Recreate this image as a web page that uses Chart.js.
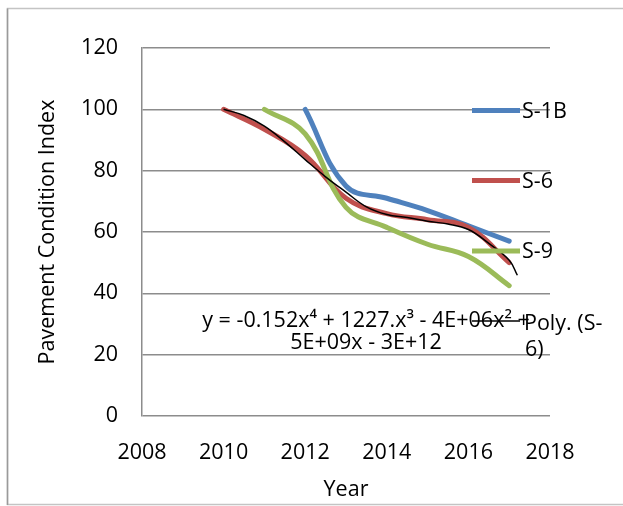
<!DOCTYPE html>
<html>
<head>
<meta charset="utf-8">
<script src="https://cdn.jsdelivr.net/npm/chart.js@4.4.0/dist/chart.umd.min.js"></script>
<style>
html,body{margin:0;padding:0;background:#fff;}
#wrap{width:623px;height:506px;position:relative;}
</style>
</head>
<body>
<div id="wrap"><canvas id="c" width="623" height="506"></canvas></div>
<script>
// ---- data ----
const yearsS1B = [2012, 2013, 2014, 2015, 2016, 2017];
const valuesS1B = [100, 75, 71, 67, 62, 57];

const yearsS6 = [2010, 2011, 2012, 2013, 2014, 2015, 2016, 2017];
const valuesS6 = [100, 93.5, 85, 71, 66, 64, 61.5, 50];

const yearsS9 = [2011, 2012, 2013, 2014, 2015, 2016, 2017];
const valuesS9 = [100, 92, 68, 61.5, 56, 52, 42.5];

// Poly. (S-6) trendline
const trendYears = [2010, 2010.5, 2011, 2011.5, 2012, 2012.5, 2013, 2013.5, 2014, 2014.5, 2015, 2015.5, 2016, 2016.5, 2017, 2017.2];
const trendValues = [100, 98, 94.5, 89.4, 83.6, 78, 73, 68.2, 65.7, 64.7, 63.5, 62.6, 60.8, 56.3, 50.8, 45.9];

const xTicks = [2008, 2010, 2012, 2014, 2016, 2018];
const yTicks = [0, 20, 40, 60, 80, 100, 120];

const seriesNames = ['S-1B', 'S-6', 'S-9'];
const trendName = 'Poly. (S-6)';
const equationLines = ['y = -0.152x\u2074 + 1227.x\u00B3 - 4E+06x\u00B2 +', '5E+09x - 3E+12'];
const xTitle = 'Year';
const yTitle = 'Pavement Condition Index';

const colors = ['#4f81bd', '#c0504d', '#9bbb59'];
const FONT = "'Open Sans', 'Noto Sans', sans-serif";
const FS = 21.5;

function pts(xs, ys) { return xs.map((x, i) => ({x: x, y: ys[i]})); }

const seriesDefs = [
  {label: seriesNames[0], data: pts(yearsS1B, valuesS1B), color: colors[0], order: 3},
  {label: seriesNames[1], data: pts(yearsS6, valuesS6), color: colors[1], order: 2},
  {label: seriesNames[2], data: pts(yearsS9, valuesS9), color: colors[2], order: 1}
];

const datasets = seriesDefs.map(s => ({
  label: s.label, data: s.data, borderColor: s.color, backgroundColor: s.color,
  borderWidth: 5, pointRadius: 0, tension: 0.4, borderCapStyle: 'round',
  borderJoinStyle: 'round', fill: false, order: s.order
}));
datasets.push({
  label: trendName, data: pts(trendYears, trendValues), borderColor: '#000',
  backgroundColor: '#000', borderWidth: 1.5, pointRadius: 0, tension: 0.4,
  fill: false, order: 0
});

const framePlugin = {
  id: 'frame',
  beforeDraw(chart) {
    const ctx = chart.ctx;
    ctx.save();
    ctx.fillStyle = '#fff';
    ctx.fillRect(0, 0, chart.width, chart.height);
    ctx.strokeStyle = '#c4c4c4';
    ctx.lineWidth = 1.5;
    ctx.strokeRect(7.5, 8.5, 640, 496);
    ctx.strokeStyle = '#9a9a9a';
    ctx.beginPath();
    ctx.moveTo(7.5, 8.5);
    ctx.lineTo(7.5, 505);
    ctx.stroke();
    ctx.restore();
  }
};

const legendPlugin = {
  id: 'customLegend',
  afterDraw(chart) {
    const ctx = chart.ctx;
    ctx.save();
    ctx.font = FS + 'px ' + FONT;
    ctx.fillStyle = '#000';
    ctx.textBaseline = 'middle';
    // equation label
    ctx.textAlign = 'center';
    ctx.fillText(equationLines[0], 366, 321);
    ctx.fillText(equationLines[1], 366, 343);
    // legend entries
    ctx.textAlign = 'left';
    const entryY = [110.5, 180.5, 251, 321];
    seriesDefs.forEach((s, i) => {
      ctx.strokeStyle = s.color;
      ctx.lineWidth = 5;
      ctx.lineCap = 'butt';
      ctx.beginPath();
      ctx.moveTo(472, entryY[i]);
      ctx.lineTo(520, entryY[i]);
      ctx.stroke();
      ctx.fillText(s.label, 522, entryY[i] + 1);
    });
    ctx.strokeStyle = '#000';
    ctx.lineWidth = 1.5;
    ctx.beginPath();
    ctx.moveTo(472, entryY[3]);
    ctx.lineTo(520, entryY[3]);
    ctx.stroke();
    ctx.fillText('Poly. (S-', 524, entryY[3] + 3);
    ctx.fillText('6)', 525, entryY[3] + 29);
    ctx.restore();
  }
};

new Chart(document.getElementById('c'), {
  type: 'line',
  data: {datasets: datasets},
  plugins: [framePlugin, legendPlugin],
  options: {
    responsive: false,
    animation: false,
    layout: {padding: {left: 0, top: 48, right: 73, bottom: 0}},
    plugins: {legend: {display: false}, tooltip: {enabled: false}},
    scales: {
      x: {
        type: 'linear', min: xTicks[0], max: xTicks[xTicks.length - 1],
        afterBuildTicks(scale) { scale.ticks = xTicks.map(v => ({value: v})); },
        afterFit(scale) { scale.height = 90; },
        grid: {display: false, drawTicks: false},
        border: {display: false},
        ticks: {padding: 24, color: '#000', font: {family: FONT, size: FS},
                maxRotation: 0, callback: v => String(v)},
        title: {display: true, text: xTitle, color: '#000',
                font: {family: FONT, size: FS}, padding: {top: 0, bottom: 3}}
      },
      y: {
        type: 'linear', min: yTicks[0], max: yTicks[yTicks.length - 1],
        afterBuildTicks(scale) { scale.ticks = yTicks.map(v => ({value: v})); },
        afterFit(scale) { scale.width = 142; },
        grid: {color: '#8c8c8c', lineWidth: 1.5, drawTicks: false},
        border: {display: true, color: '#8c8c8c', width: 1.5},
        ticks: {padding: 24, color: '#000', font: {family: FONT, size: FS},
                callback: v => String(v)},
        title: {display: true, text: yTitle, color: '#000',
                font: {family: FONT, size: FS}, padding: {top: 35, bottom: 0}}
      }
    }
  }
});
</script>
</body>
</html>
